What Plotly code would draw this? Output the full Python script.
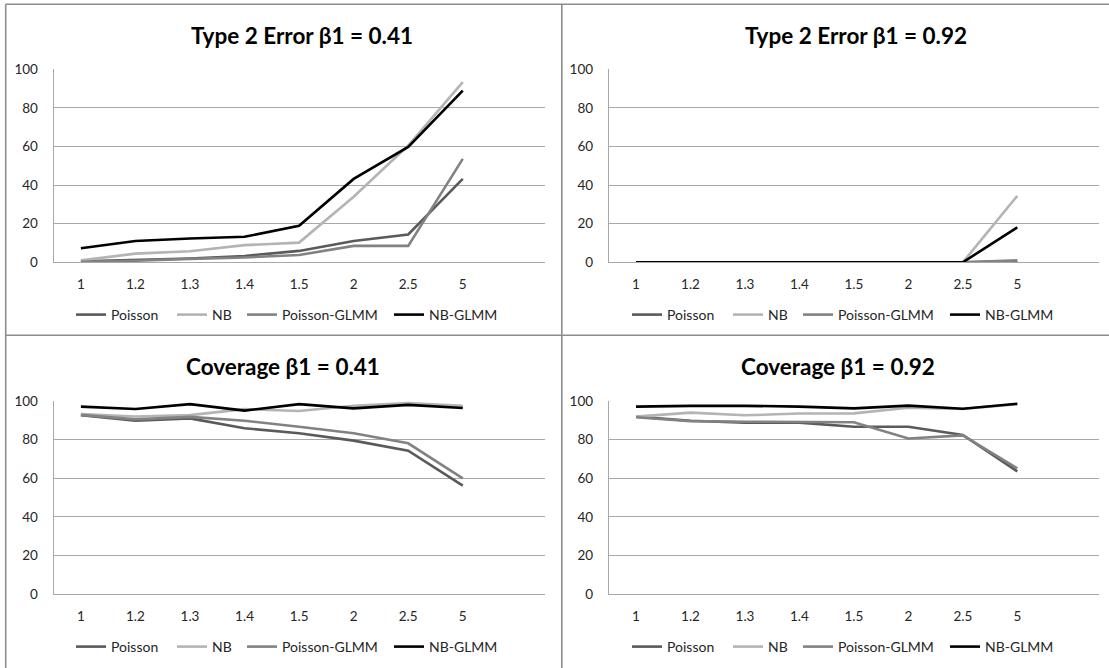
import plotly.graph_objects as go

W, H = 1109, 668

# Effect-size categories along the x axis
categories = ["1", "1.2", "1.3", "1.4", "1.5", "2", "2.5", "5"]
series_names = ["Poisson", "NB", "Poisson-GLMM", "NB-GLMM"]

# Type 2 error, beta1 = 0.41
t2_041_poisson = [0.5, 1.4, 2.0, 3.3, 5.9, 11.0, 14.4, 43.2]
t2_041_nb = [1.0, 4.5, 5.7, 8.9, 10.2, 34.0, 60.5, 93.4]
t2_041_pglmm = [0.3, 0.8, 1.8, 2.5, 3.8, 8.5, 8.5, 53.6]
t2_041_nbglmm = [7.3, 11.0, 12.3, 13.2, 18.9, 43.2, 59.8, 89.0]

# Type 2 error, beta1 = 0.92
t2_092_poisson = [0, 0, 0, 0, 0, 0, 0, 0.5]
t2_092_nb = [0, 0, 0, 0, 0, 0, 0, 34.4]
t2_092_pglmm = [0, 0, 0, 0, 0, 0, 0, 1.0]
t2_092_nbglmm = [0, 0, 0, 0, 0, 0, 0, 18.1]

# Coverage, beta1 = 0.41
cov_041_poisson = [92.6, 89.8, 91.0, 85.9, 83.3, 79.5, 74.3, 56.2]
cov_041_nb = [93.3, 92.0, 92.7, 95.8, 94.8, 97.5, 98.9, 97.5]
cov_041_pglmm = [92.8, 90.5, 91.8, 89.8, 86.7, 83.3, 78.1, 60.0]
cov_041_nbglmm = [97.1, 95.9, 98.4, 95.0, 98.4, 96.2, 98.0, 96.4]

# Coverage, beta1 = 0.92
cov_092_poisson = [91.9, 89.8, 88.8, 88.8, 86.7, 86.7, 82.4, 63.6]
cov_092_nb = [91.9, 94.0, 92.6, 93.5, 93.6, 96.5, 95.9, 98.4]
cov_092_pglmm = [91.6, 89.6, 89.3, 89.3, 89.0, 80.6, 82.2, 65.2]
cov_092_nbglmm = [97.1, 97.5, 97.5, 97.1, 96.2, 97.6, 96.0, 98.6]

y_ticks = [0, 20, 40, 60, 80, 100]

colors = {
    "Poisson": "#5a5a5a",
    "NB": "#b4b4b4",
    "Poisson-GLMM": "#828282",
    "NB-GLMM": "#000000",
}

FONT = "Lato, 'Open Sans', sans-serif"
GRID = "#a8a8a8"
BORDER = "#8c8c8c"
TEXT = "#262626"


def fx(px):
    return px / W


def fy(py):
    return 1 - py / H


# Legend entry offsets (px) from the first entry's line start
entry_offsets = [0, 101, 171, 318]

# Panel layout in pixels: title, series, plot box (x0, x1, y0, y1), title centre,
# legend row (first line start x, centre y)
panels = [
    ("Type 2 Error β1 = 0.41",
     [t2_041_poisson, t2_041_nb, t2_041_pglmm, t2_041_nbglmm],
     (53.6, 544.6, 69.3, 262.3), (302, 36), (77, 315)),
    ("Type 2 Error β1 = 0.92",
     [t2_092_poisson, t2_092_nb, t2_092_pglmm, t2_092_nbglmm],
     (608.8, 1099, 69.3, 262.3), (856, 36), (633, 315)),
    ("Coverage β1 = 0.41",
     [cov_041_poisson, cov_041_nb, cov_041_pglmm, cov_041_nbglmm],
     (53.6, 544.6, 401, 594.3), (283, 366), (77, 647)),
    ("Coverage β1 = 0.92",
     [cov_092_poisson, cov_092_nb, cov_092_pglmm, cov_092_nbglmm],
     (608.8, 1099, 401, 594.3), (838, 366), (633, 647)),
]

fig = go.Figure()
layout = {}
annotations = []
legend_count = 0

for i, (title, series, box, tpos, lrow) in enumerate(panels, start=1):
    sfx = "" if i == 1 else str(i)
    for k, (name, values) in enumerate(zip(series_names, series)):
        legend_count += 1
        legend_id = "legend" if legend_count == 1 else "legend%d" % legend_count
        fig.add_trace(go.Scatter(
            x=categories, y=values, name=name, mode="lines",
            line=dict(color=colors[name], width=2.6),
            xaxis="x" + sfx, yaxis="y" + sfx,
            legend=legend_id, showlegend=True,
        ))
        layout[legend_id] = dict(
            orientation="h", x=fx(lrow[0] + entry_offsets[k] - 6), y=fy(lrow[1]),
            xanchor="left", yanchor="middle",
            font=dict(family=FONT, size=14, color=TEXT),
            bgcolor="rgba(0,0,0,0)", borderwidth=0, itemwidth=30,
        )
    x0, x1, y0, y1 = box
    layout["xaxis" + sfx] = dict(
        domain=[fx(x0), fx(x1)], anchor="y" + sfx, type="category",
        categoryorder="array", categoryarray=categories,
        range=[-0.5, len(categories) + 0.5],
        showgrid=False, zeroline=False, showline=True, linecolor=GRID, linewidth=1,
        ticks="", ticklabelstandoff=9,
        tickfont=dict(family=FONT, size=13.5, color=TEXT),
        fixedrange=True,
    )
    layout["yaxis" + sfx] = dict(
        domain=[fy(y1), fy(y0)], anchor="x" + sfx, range=[0, 100],
        tickvals=y_ticks, showgrid=True, gridcolor=GRID, gridwidth=1,
        zeroline=False, showline=True, linecolor=GRID, linewidth=1,
        ticks="", ticklabelstandoff=12,
        tickfont=dict(family=FONT, size=13.5, color=TEXT),
        fixedrange=True,
    )
    annotations.append(dict(
        text="<b>" + title + "</b>", x=fx(tpos[0]), y=fy(tpos[1]),
        xref="paper", yref="paper", xanchor="center", yanchor="middle",
        showarrow=False, font=dict(family=FONT, size=22.5, color="#000000"),
    ))

# Panel frame lines
bx0, by0, vx, hy = 5.7, 4.3, 561.8, 335.3
shapes = [
    dict(type="line", xref="paper", yref="paper", x0=fx(bx0), x1=1, y0=fy(by0), y1=fy(by0)),
    dict(type="line", xref="paper", yref="paper", x0=fx(bx0), x1=fx(bx0), y0=fy(by0), y1=0),
    dict(type="line", xref="paper", yref="paper", x0=fx(vx), x1=fx(vx), y0=fy(by0), y1=0),
    dict(type="line", xref="paper", yref="paper", x0=fx(bx0), x1=1, y0=fy(hy), y1=fy(hy)),
]
for s in shapes:
    s["line"] = dict(color=BORDER, width=1.6)

fig.update_layout(
    width=W, height=H,
    margin=dict(l=0, r=0, t=0, b=0, autoexpand=False),
    paper_bgcolor="white", plot_bgcolor="white",
    annotations=annotations, shapes=shapes,
    **layout,
)

# Let the figure fill the page edge to edge
fig.write_html(
    "out.html",
    post_script="document.body.style.margin='0';document.body.style.overflow='hidden';",
)
